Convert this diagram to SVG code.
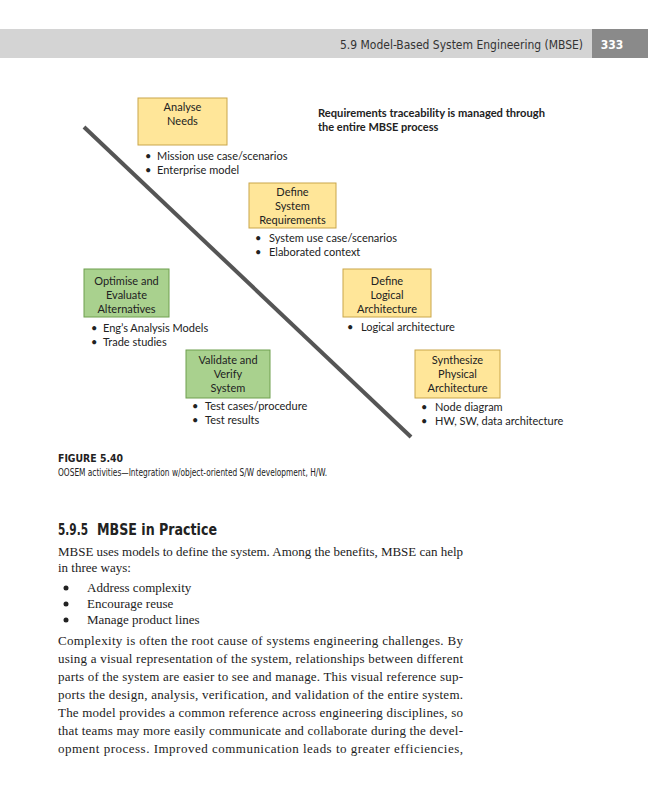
<svg xmlns="http://www.w3.org/2000/svg" width="648" height="800" viewBox="0 0 648 800">
<style>
.hdr{font-family:"DejaVu Sans Condensed","Liberation Sans",sans-serif;font-stretch:condensed}
.d{font-family:Lato,"Liberation Sans",sans-serif;font-size:11px;fill:#222}
.c{text-anchor:middle}
.yb{fill:#FFE699;stroke:#C9A64A;stroke-width:1}
.gb{fill:#A9D18E;stroke:#6F9F4F;stroke-width:1}
.b{font-family:"Liberation Serif",serif;font-size:13px;fill:#222}
.cap{font-family:"DejaVu Sans Condensed","Liberation Sans",sans-serif;font-size:10px;fill:#222}
</style>
<rect width="648" height="800" fill="#fff"/>
<g id="header">
<rect x="0" y="29" width="592" height="29" fill="#d4d4d4"/>
<rect x="592" y="29" width="56" height="29" fill="#8a8a8a"/>
<text class="hdr" x="340" y="49" font-size="12" fill="#333" textLength="243" lengthAdjust="spacingAndGlyphs">5.9 Model-Based System Engineering (MBSE)</text>
<text class="hdr" x="612" y="49" font-size="12" font-weight="bold" fill="#fff" text-anchor="middle">333</text>
</g>
<g id="connectors">
<line x1="84" y1="127" x2="411" y2="437" stroke="#555" stroke-width="4"/>
</g>
<g id="title">
<text class="d" x="318" y="117" font-weight="bold" textLength="227" lengthAdjust="spacingAndGlyphs">Requirements traceability is managed through</text>
<text class="d" x="318" y="131" font-weight="bold">the entire MBSE process</text>
</g>
<g id="analyse-needs">
<rect class="yb" x="138" y="98" width="89" height="47"/>
<text class="d c" x="182.5" y="111">Analyse</text>
<text class="d c" x="182.5" y="125">Needs</text>
<text class="d" x="145" y="160">•</text><text class="d" x="157" y="160">Mission use case/scenarios</text>
<text class="d" x="145" y="174">•</text><text class="d" x="157" y="174">Enterprise model</text>
</g>
<g id="define-system-requirements">
<rect class="yb" x="249" y="183" width="87" height="45"/>
<text class="d c" x="292.5" y="196">Define</text>
<text class="d c" x="292.5" y="210">System</text>
<text class="d c" x="292.5" y="224">Requirements</text>
<text class="d" x="255" y="242">•</text><text class="d" x="269" y="242">System use case/scenarios</text>
<text class="d" x="255" y="256">•</text><text class="d" x="269" y="256">Elaborated context</text>
</g>
<g id="optimise">
<rect class="gb" x="84" y="269" width="85" height="48"/>
<text class="d c" x="126.5" y="285">Optimise and</text>
<text class="d c" x="126.5" y="299">Evaluate</text>
<text class="d c" x="126.5" y="313">Alternatives</text>
<text class="d" x="91" y="332">•</text><text class="d" x="103" y="332">Eng’s Analysis Models</text>
<text class="d" x="91" y="346">•</text><text class="d" x="103" y="346">Trade studies</text>
</g>
<g id="define-logical">
<rect class="yb" x="343" y="269" width="88" height="48"/>
<text class="d c" x="387" y="285">Define</text>
<text class="d c" x="387" y="299">Logical</text>
<text class="d c" x="387" y="313">Architecture</text>
<text class="d" x="347" y="331">•</text><text class="d" x="361" y="331">Logical architecture</text>
</g>
<g id="validate">
<rect class="gb" x="186" y="350" width="84" height="48"/>
<text class="d c" x="228" y="364">Validate and</text>
<text class="d c" x="228" y="378">Verify</text>
<text class="d c" x="228" y="392">System</text>
<text class="d" x="192" y="410">•</text><text class="d" x="205" y="410">Test cases/procedure</text>
<text class="d" x="192" y="424">•</text><text class="d" x="205" y="424">Test results</text>
</g>
<g id="synthesize">
<rect class="yb" x="415" y="350" width="85" height="48"/>
<text class="d c" x="457.5" y="364">Synthesize</text>
<text class="d c" x="457.5" y="378">Physical</text>
<text class="d c" x="457.5" y="392">Architecture</text>
<text class="d" x="421" y="411">•</text><text class="d" x="435" y="411">Node diagram</text>
<text class="d" x="421" y="425">•</text><text class="d" x="435" y="425">HW, SW, data architecture</text>
</g>
<g id="caption">
<text class="cap" x="58" y="462" font-weight="bold" font-size="11" textLength="65" lengthAdjust="spacingAndGlyphs">FIGURE 5.40</text>
<text class="cap" x="58" y="476" textLength="269" lengthAdjust="spacingAndGlyphs">OOSEM activities—Integration w/object-oriented S/W development, H/W.</text>
</g>
<g id="body">
<text class="hdr" x="58" y="535" font-size="15" font-weight="bold" fill="#222" textLength="30" lengthAdjust="spacingAndGlyphs">5.9.5</text>
<text class="hdr" x="97" y="535" font-size="15" font-weight="bold" fill="#222" textLength="120" lengthAdjust="spacingAndGlyphs">MBSE in Practice</text>
<text class="b" x="58" y="556" textLength="405" lengthAdjust="spacing">MBSE uses models to define the system. Among the benefits, MBSE can help</text>
<text class="b" x="58" y="572">in three ways:</text>
<circle cx="66" cy="588" r="2.5" fill="#222"/><text class="b" x="87" y="592">Address complexity</text>
<circle cx="66" cy="604" r="2.5" fill="#222"/><text class="b" x="87" y="608">Encourage reuse</text>
<circle cx="66" cy="620" r="2.5" fill="#222"/><text class="b" x="87" y="624">Manage product lines</text>
<text class="b" x="58" y="645" textLength="405" lengthAdjust="spacing">Complexity is often the root cause of systems engineering challenges. By</text>
<text class="b" x="58" y="663" textLength="405" lengthAdjust="spacing">using a visual representation of the system, relationships between different</text>
<text class="b" x="58" y="681" textLength="405" lengthAdjust="spacing">parts of the system are easier to see and manage. This visual reference sup-</text>
<text class="b" x="58" y="699" textLength="405" lengthAdjust="spacing">ports the design, analysis, verification, and validation of the entire system.</text>
<text class="b" x="58" y="717" textLength="405" lengthAdjust="spacing">The model provides a common reference across engineering disciplines, so</text>
<text class="b" x="58" y="735" textLength="405" lengthAdjust="spacing">that teams may more easily communicate and collaborate during the devel-</text>
<text class="b" x="58" y="753" textLength="405" lengthAdjust="spacing">opment process. Improved communication leads to greater efficiencies,</text>
</g>
</svg>
